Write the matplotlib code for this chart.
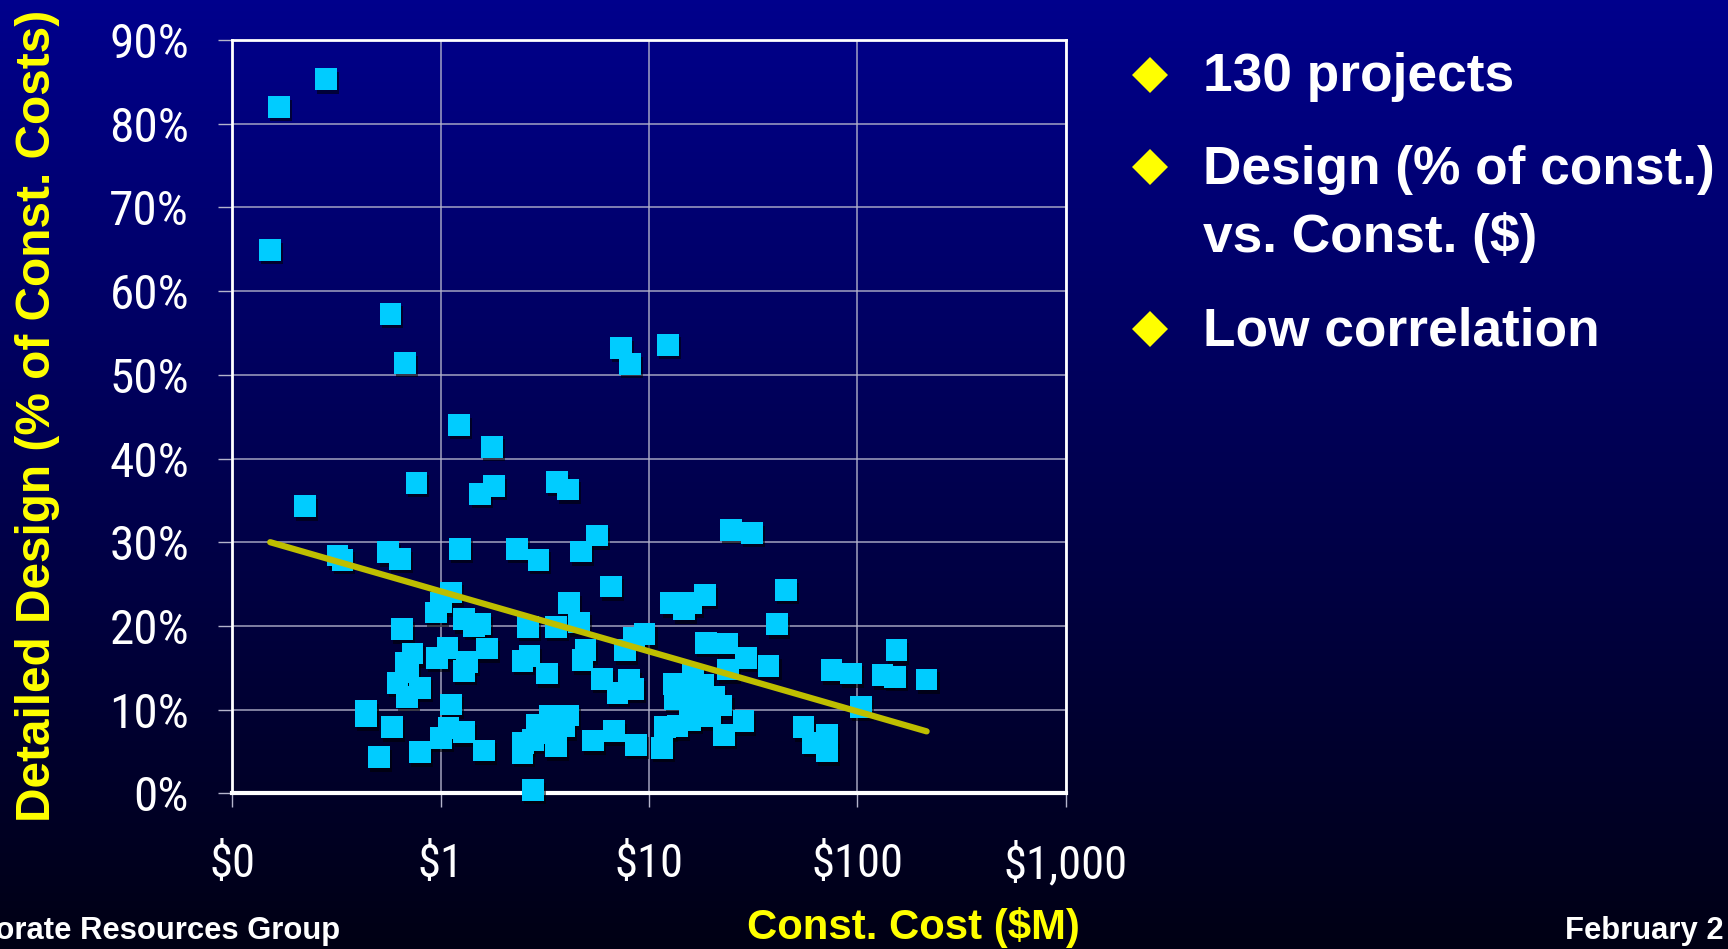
import numpy as np
import matplotlib
matplotlib.use("Agg")
import matplotlib.pyplot as plt
import matplotlib.patheffects as pe
from matplotlib import font_manager
from matplotlib.font_manager import FontProperties
from matplotlib.lines import Line2D

# construction cost ($M) and detailed design cost (% of construction)
const_cost = [0.168, 0.281, 0.152, 0.574, 0.673, 7.36, 8.08, 12.3, 1.22, 1.76,
              0.224, 0.766, 1.55, 1.81, 3.62, 4.07, 0.32, 0.338, 0.561, 0.640,
              1.235, 2.32, 2.95, 4.73, 5.61, 6.55, 1.117, 0.947, 1.0, 1.296,
              1.553, 1.45, 2.63, 3.57, 4.12, 4.62, 0.652, 0.732, 0.68, 0.621,
              0.797, 0.687, 1.079, 0.958, 1.296, 1.333, 1.665, 2.67, 2.47, 3.23,
              4.95, 4.79, 0.437, 0.437, 0.585, 0.507, 1.124, 1.09, 1.0, 1.296,
              0.797, 1.617, 4.07, 3.35, 3.11, 3.58, 2.47, 2.78, 2.78, 24.7,
              31.3, 45.3, 12.8, 14.7, 18.5, 16.0, 41.3, 9.52, 8.48, 7.64,
              5.94, 8.03, 7.05, 8.4, 5.39, 6.8, 8.67, 11.5, 11.9, 13.7,
              13.1, 13.3, 16.3, 18.2, 17.5, 22.3, 19.6, 28.4, 22.9, 18.8,
              23.6, 29.1, 37.5, 24.0, 55.1, 71.4, 71.4, 61.4, 75.2, 93.3,
              103.7, 154, 132, 151, 215, 15.7, 2.49, 15.0, 20.5, 17.0,
              0.70, 3.9, 2.9]
design_pct = [82.0, 85.3, 64.9, 57.3, 51.4, 53.2, 51.3, 53.6, 44.0, 41.4,
              34.3, 37.1, 35.8, 36.7, 37.2, 36.3, 28.4, 27.9, 28.8, 28.0,
              29.2, 29.2, 27.9, 28.9, 30.8, 24.7, 24.0, 21.6, 22.8, 20.8,
              20.2, 20.0, 19.9, 19.9, 22.7, 20.4, 19.6, 16.7, 15.6, 13.2,
              12.6, 11.5, 17.4, 16.2, 14.6, 15.7, 17.3, 16.4, 15.8, 14.3,
              17.1, 15.9, 9.8, 9.2, 7.9, 4.3, 10.6, 7.8, 6.6, 7.3,
              4.9, 5.1, 9.3, 9.2, 7.2, 5.6, 4.8, 6.4, 0.4, 31.5,
              31.1, 24.3, 22.7, 22.0, 23.7, 22.7, 20.2, 19.0, 18.6, 17.1,
              13.7, 13.5, 12.0, 12.5, 6.3, 7.4, 5.8, 5.4, 7.9, 8.0,
              13.1, 11.3, 14.1, 12.9, 10.8, 10.5, 9.2, 8.6, 7.0, 18.0,
              17.9, 16.2, 15.2, 14.8, 7.9, 7.0, 5.0, 6.0, 14.7, 14.3,
              10.3, 17.1, 14.1, 13.9, 13.6, 8.8, 6.0, 12.0, 11.5, 9.6,
              14.5, 8.0, 8.2]

# trendline end points as drawn
trend_x = [0.152, 215]
trend_y = [30.0, 7.4]

x_ticks = [0.1, 1, 10, 100, 1000]
x_tick_labels = ["$0", "$1", "$10", "$100", "$1,000"]
y_ticks = [0, 10, 20, 30, 40, 50, 60, 70, 80, 90]
y_tick_labels = ["0%", "10%", "20%", "30%", "40%", "50%", "60%", "70%", "80%", "90%"]

bullet_lines = [["130 projects"], ["Design (% of const.)", "vs. Const. ($)"], ["Low correlation"]]

names = {f.name for f in font_manager.fontManager.ttflist}
bold_font = "Liberation Sans" if "Liberation Sans" in names else "DejaVu Sans"


def pick_narrow():
    # look for a condensed / narrow face for the tick labels
    best, best_score = None, -1
    for f in font_manager.fontManager.ttflist:
        nm = f.name
        cond = ("Narrow" in nm or "Condensed" in nm or
                f.stretch in ("condensed", "semi-condensed", "extra-condensed"))
        if not cond or f.style != "normal":
            continue
        w = f.weight if isinstance(f.weight, int) else 400
        score = 0
        if "Liberation" in nm:
            score += 50
        elif "Roboto" in nm:
            score += 40
        elif "DejaVu" in nm:
            score += 30
        else:
            score += 20
        score -= abs(w - 400) / 50
        if score > best_score:
            best, best_score = f, score
    return best


nf = pick_narrow()
xtick_fp = FontProperties(fname=nf.fname, size=33.5) if nf else FontProperties(family=bold_font, size=30)
ytick_fp = FontProperties(fname=nf.fname, size=35.5) if nf else FontProperties(family=bold_font, size=31)

W, H = 1728, 949
fig = plt.figure(figsize=(W / 100, H / 100), dpi=100)

# background gradient
bg = fig.add_axes([0, 0, 1, 1])
t = np.linspace(0, 1, 256)[:, None]
blue = 140 - 120 * t
grad = np.dstack([blue * 0.0, blue * 0.0, blue]) / 255.0
grad = np.repeat(grad, 4, axis=1)
bg.imshow(grad, aspect="auto", extent=[0, 1, 0, 1], origin="upper")
bg.set_axis_off()

ax = fig.add_axes([232.3 / W, 155.7 / H, 833.4 / W, 753.3 / H])
ax.set_facecolor("none")
ax.set_xscale("log")
ax.set_xlim(0.1, 1000)
ax.set_ylim(0, 90)

ax.grid(True, color="#b4b4cc", linewidth=1.1, alpha=0.9)
ax.set_axisbelow(True)
for s in ax.spines.values():
    s.set_color("white")
    s.set_linewidth(2)
ax.spines["bottom"].set_linewidth(3)

ax.set_xticks(x_ticks)
ax.set_xticklabels(x_tick_labels)
ax.xaxis.set_minor_locator(matplotlib.ticker.NullLocator())
ax.set_yticks(y_ticks)
ax.set_yticklabels(y_tick_labels)
ax.tick_params(axis="both", direction="out", length=10, width=1, color="#b4b4cc",
               labelcolor="white")
ax.tick_params(axis="y", pad=21)
ax.tick_params(axis="x", pad=25)
for lab in ax.get_xticklabels():
    lab.set_fontproperties(xtick_fp)
for lab in ax.get_yticklabels():
    lab.set_fontproperties(ytick_fp)

ax.plot(trend_x, trend_y, color="#bebe00", linewidth=4.5, solid_capstyle="round", zorder=4)

sc = ax.scatter(const_cost, design_pct, marker="s", s=245, color="#00ccff",
                linewidths=0, zorder=3, clip_on=False)
sc.set_path_effects([pe.SimplePatchShadow(offset=(1.5, -2.5), shadow_rgbFace="black", alpha=0.55),
                     pe.Normal()])

fig.text(38 / W, 1 - 416 / H, "Detailed Design (% of Const. Costs)", rotation=90,
         ha="center", va="center", color="#ffff00", fontsize=34.4,
         fontweight="bold", fontfamily=bold_font)
fig.text(913 / W, 1 - 939 / H, "Const. Cost ($M)", ha="center", va="baseline",
         color="#ffff00", fontsize=30.2, fontweight="bold", fontfamily=bold_font)
fig.text(340 / W, 1 - 939 / H, "Corporate Resources Group", ha="right", va="baseline",
         color="white", fontsize=22.3, fontweight="bold", fontfamily=bold_font)
fig.text(1565 / W, 1 - 939 / H, "February 2", ha="left", va="baseline",
         color="white", fontsize=22.3, fontweight="bold", fontfamily=bold_font)

# bullet list
bullet_y = [74.5, 167, 329]
line_base = [[91], [184, 252], [345]]
for by, bases, lines in zip(bullet_y, line_base, bullet_lines):
    fig.add_artist(Line2D([1149.5 / W], [1 - by / H], marker="D", markersize=18.5,
                          color="#ffff00", markeredgewidth=0, transform=fig.transFigure))
    for tb, txt in zip(bases, lines):
        fig.text(1203 / W, 1 - tb / H, txt, ha="left", va="baseline", color="white",
                 fontsize=38.3, fontweight="bold", fontfamily=bold_font)

fig.savefig("out.png", dpi=100, facecolor=fig.get_facecolor())
